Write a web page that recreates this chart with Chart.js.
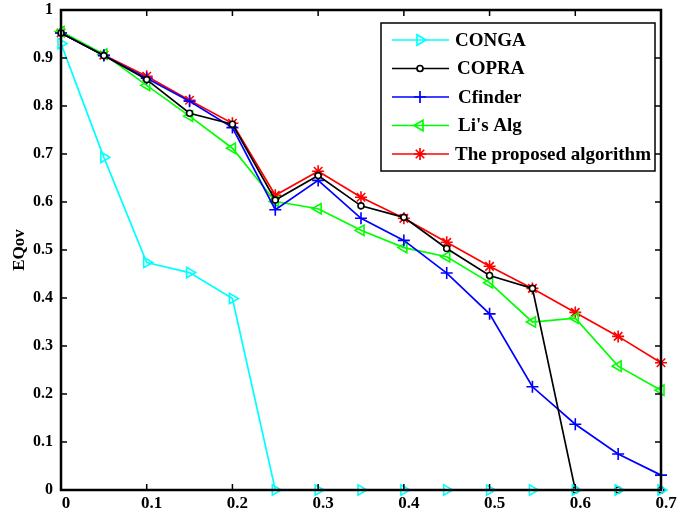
<!DOCTYPE html>
<html>
<head>
<meta charset="utf-8">
<script src="https://cdn.jsdelivr.net/npm/chart.js@4/dist/chart.umd.min.js"></script>
<style>
body { margin: 0; background: #fff; }
canvas { display: block; }
</style>
</head>
<body>
<canvas id="chart" width="681" height="516"></canvas>
<script>
// data
const xVals = [0, 0.05, 0.1, 0.15, 0.2, 0.25, 0.3, 0.35, 0.4, 0.45, 0.5, 0.55, 0.6, 0.65, 0.7];
const conga = [0.93, 0.693, 0.474, 0.453, 0.399, 0, 0, 0, 0, 0, 0, 0, 0, 0, 0];
const copra = [0.952, 0.905, 0.855, 0.785, 0.762, 0.604, 0.655, 0.592, 0.568, 0.503, 0.447, 0.42, 0, 0, 0];
const cfinder = [0.952, 0.905, 0.858, 0.81, 0.755, 0.584, 0.645, 0.566, 0.52, 0.452, 0.367, 0.215, 0.137, 0.075, 0.031];
const lisAlg = [0.955, 0.908, 0.843, 0.779, 0.712, 0.601, 0.586, 0.541, 0.505, 0.486, 0.432, 0.35, 0.358, 0.258, 0.208];
const proposed = [0.952, 0.906, 0.862, 0.812, 0.764, 0.614, 0.664, 0.61, 0.566, 0.516, 0.466, 0.42, 0.37, 0.32, 0.265];

const seriesNames = ["CONGA", "COPRA", "Cfinder", "Li's Alg", "The proposed algorithm"];
const xTicks = [0, 0.1, 0.2, 0.3, 0.4, 0.5, 0.6, 0.7];
const yTicks = [0, 0.1, 0.2, 0.3, 0.4, 0.5, 0.6, 0.7, 0.8, 0.9, 1];

const SERIF = "'Liberation Serif', 'Times New Roman', serif";

function pts(ys){
return xVals.map((x, i) => ({x: x, y: ys[i]}));
}

function ds(label, ys, color, style, rot, r, fill){
return {
label: label,
data: pts(ys),
borderColor: color,
borderWidth: 1.7,
pointStyle: style,
rotation: rot,
pointRadius: r,
pointBorderColor: color,
pointBackgroundColor: fill,
pointBorderWidth: 1.6,
clip: false,
tension: 0
};
}

const datasets = [
ds(seriesNames[0], conga, '#00ffff', 'triangle', 90, 6, 'rgba(0,0,0,0)'),
ds(seriesNames[1], copra, '#000000', 'circle', 0, 3, '#ffffff'),
ds(seriesNames[2], cfinder, '#0000ff', 'cross', 0, 6, 'rgba(0,0,0,0)'),
ds(seriesNames[3], lisAlg, '#00ff00', 'triangle', -90, 6, 'rgba(0,0,0,0)'),
ds(seriesNames[4], proposed, '#ff0000', 'star', 0, 6, 'rgba(0,0,0,0)')
];

// MATLAB style box + inward ticks
const boxPlugin = {
id: 'box',
afterDraw(chart){
const ctx = chart.ctx;
const a = chart.chartArea;
const xs = chart.scales.x, ys = chart.scales.y;
ctx.save();
ctx.strokeStyle = '#000';
ctx.lineWidth = 1.5;
ctx.beginPath();
xTicks.forEach(v => {
let px = xs.getPixelForValue(v);
ctx.moveTo(px, a.bottom); ctx.lineTo(px, a.bottom - 6);
ctx.moveTo(px, a.top); ctx.lineTo(px, a.top + 6);
});
yTicks.forEach(v => {
let py = ys.getPixelForValue(v);
ctx.moveTo(a.left, py); ctx.lineTo(a.left + 6, py);
ctx.moveTo(a.right, py); ctx.lineTo(a.right - 6, py);
});
ctx.stroke();
ctx.lineWidth = 2.5;
ctx.strokeRect(a.left, a.top, a.right - a.left, a.bottom - a.top);
ctx.restore();
}
};

// legend box in upper right
const legendPlugin = {
id: 'legendBox',
afterDraw(chart){
const ctx = chart.ctx;
const bx = 381, by = 23, bw = 274, bh = 148;
ctx.save();
ctx.fillStyle = '#fff';
ctx.fillRect(bx, by, bw, bh);
ctx.strokeStyle = '#000';
ctx.lineWidth = 1.5;
ctx.strokeRect(bx, by, bw, bh);
const rows = [40, 68.5, 97, 125.5, 154];
const textX = [455, 457, 458, 458, 455];
chart.data.datasets.forEach((d, i) => {
let y = rows[i];
ctx.strokeStyle = d.borderColor;
ctx.lineWidth = 1.7;
ctx.beginPath();
ctx.moveTo(392, y); ctx.lineTo(449, y);
ctx.stroke();
ctx.fillStyle = d.pointBackgroundColor;
Chart.helpers.drawPoint(ctx, {
pointStyle: d.pointStyle, rotation: d.rotation,
radius: d.pointRadius, borderWidth: 1.6
}, 420, y);
ctx.fillStyle = '#000';
ctx.font = "bold 19px " + SERIF;
ctx.textBaseline = 'middle';
ctx.textAlign = 'left';
ctx.fillText(d.label, textX[i], y + 1);
});
ctx.restore();
}
};

function fmt(v){
return String(parseFloat(Number(v).toFixed(1)));
}

new Chart(document.getElementById('chart'), {
type: 'line',
data: { datasets: datasets },
options: {
responsive: false,
animation: false,
devicePixelRatio: 1,
layout: { padding: { top: 10, right: 20, left: 0, bottom: 0 } },
plugins: { legend: { display: false }, tooltip: { enabled: false } },
scales: {
x: {
type: 'linear', min: 0, max: 0.7,
afterFit: s => { s.height = 26; },
afterBuildTicks: s => { s.ticks = xTicks.map(v => ({value: v})); },
grid: { display: false, drawTicks: false },
border: { display: false },
ticks: {
callback: fmt, padding: 3, labelOffset: 5, maxRotation: 0,
color: '#000', font: { family: SERIF, size: 17, weight: 'bold' }
}
},
y: {
type: 'linear', min: 0, max: 1,
afterFit: s => { s.width = 61; s.paddingTop = 0; s.paddingBottom = 0; },
afterBuildTicks: s => { s.ticks = yTicks.map(v => ({value: v})); },
grid: { display: false, drawTicks: false },
border: { display: false },
ticks: {
callback: fmt, padding: 8,
color: '#000', font: { family: SERIF, size: 16, weight: 'bold' }
},
title: {
display: true, text: 'EQov', color: '#000',
padding: { top: 9, bottom: 0 },
font: { family: SERIF, size: 17, weight: 'bold' }
}
}
}
},
plugins: [boxPlugin, legendPlugin]
});
</script>
</body>
</html>
